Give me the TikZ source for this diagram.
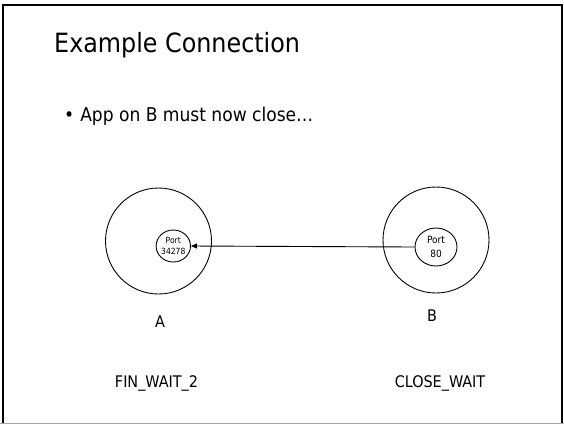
\documentclass[tikz,border=0pt]{standalone}
\usepackage{fontspec}
\setmainfont{DejaVu Sans Condensed}
\usetikzlibrary{arrows.meta,shapes.geometric}
\tikzset{
  host/.style={draw, line width=0.9pt, circle, minimum size=106pt, inner sep=0pt},
  port/.style={draw, line width=0.9pt, ellipse, inner sep=0pt, align=center},
  lbl/.style={font=\fontsize{16}{18}\selectfont, inner sep=0pt},
}
\begin{document}
\begin{tikzpicture}[x=1pt,y=-1pt]
  \useasboundingbox (0,0) rectangle (564,424);
  % slide frame
  \draw[line width=2pt] (3,424) -- (3,4.5) -- (561.5,4.5) -- (561.5,424);
  \draw[line width=1pt, gray!70] (0,423) -- (564,423);
  % heading and bullet
  \node[anchor=west, inner sep=0pt, font=\fontsize{26.5}{30}\selectfont] (title) at (54,45) {Example Connection};
  \node[anchor=west, inner sep=0pt, font=\fontsize{19}{22}\selectfont] (bullet) at (64,116) {\textbullet\hspace{6pt}App on B must now close\char"2026};
  % hosts
  \node[host] (A) at (158.5,241) {};
  \node[host] (B) at (436,240) {};
  \node[port, minimum width=33pt, minimum height=32pt, font=\fontsize{8.5}{11.5}\selectfont] (pa) at (173.3,246) {Port\\34278};
  \node[port, minimum width=42pt, minimum height=38pt, font=\fontsize{10}{14}\selectfont] (pb) at (436,247) {Port\\80};
  \draw[line width=0.9pt, -{Triangle[length=6pt,width=5pt]}] (pb.west) -- (pa.east);
  % labels
  \node[lbl] (la) at (160,322) {A};
  \node[lbl] (lb) at (432,316) {B};
  \node[lbl] (sa) at (156.5,383) {FIN\_WAIT\_2};
  \node[lbl] (sb) at (440,383) {CLOSE\_WAIT};
\end{tikzpicture}
\end{document}
